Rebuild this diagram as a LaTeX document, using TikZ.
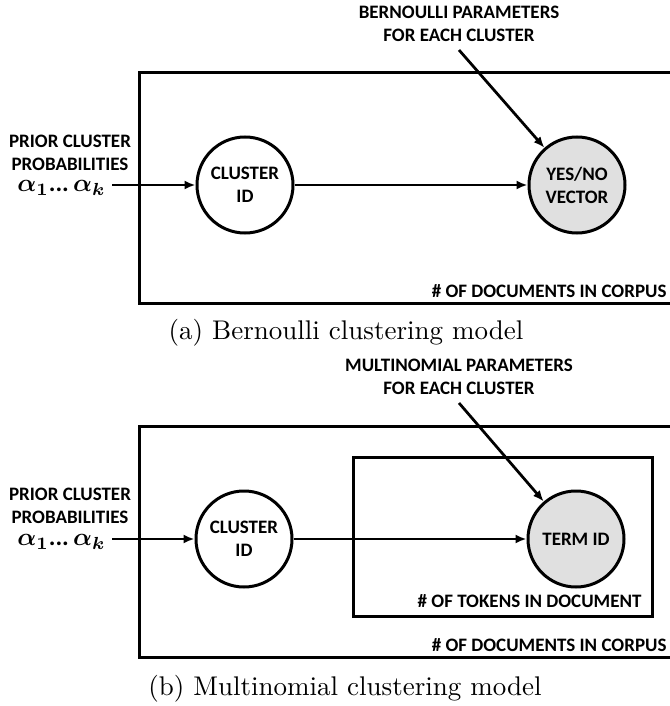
\documentclass[tikz,border=0pt]{standalone}
\usepackage{fontspec}
\usepackage{bm}
\newfontfamily\calfont{Carlito}
\usetikzlibrary{arrows.meta}
\definecolor{obsfill}{HTML}{E0E0E0}
\tikzset{
  lbl/.style={font=\calfont\bfseries\fontsize{7.6}{9.2}\selectfont, align=center, inner sep=0pt},
  platelbl/.style={font=\calfont\bfseries\fontsize{7.6}{9.2}\selectfont, anchor=east, inner sep=0pt},
  rv/.style={circle, draw, line width=1.2pt, minimum size=38.4pt, inner sep=0pt,
             font=\calfont\bfseries\fontsize{7.6}{9.2}\selectfont, align=center},
  obs/.style={rv, fill=obsfill},
  plate/.style={line width=1.2pt},
  edge/.style={line width=1.1pt, -{Latex[length=4.4pt,width=3.6pt]}},
  alphas/.style={font=\fontsize{10}{12}\selectfont, inner sep=0pt},
  capt/.style={font=\fontsize{10.8}{13}\selectfont, inner sep=0pt}
}
\newcommand{\alphaseq}{$\bm{\alpha_1}$\textbf{\calfont...}$\,\bm{\alpha_k}$}
\begin{document}
\begin{tikzpicture}[x=0.4pt, y=-0.4pt]
\useasboundingbox (0,0) rectangle (670,706);

% ---------- (a) Bernoulli clustering model ----------
\node[lbl] (bparam) at (459,24) {BERNOULLI PARAMETERS\\FOR EACH CLUSTER};
\coordinate (bstart) at (459,50);
\draw[plate] (672,73) -- (139,73) -- (139,303) -- (672,303);
\node[platelbl] (bdocs) at (667,291) {\# OF DOCUMENTS IN CORPUS};

\node[lbl] (bprior) at (70,153) {PRIOR CLUSTER\\PROBABILITIES};
\node[alphas, anchor=east] (balpha) at (106,188) {\alphaseq};
\node[rv] (bclust) at (245,185) {CLUSTER\\ID};
\node[obs] (bvec) at (577,185) {YES/NO\\VECTOR};

\coordinate (bin) at (112,185);
\draw[edge] (bin) -- (bclust);
\draw[edge] (bclust) -- (bvec);
\draw[edge] (bstart) -- (bvec);

\node[capt] (capa) at (346,333) {(a) Bernoulli clustering model};

% ---------- (b) Multinomial clustering model ----------
\node[lbl] (mparam) at (459,377) {MULTINOMIAL PARAMETERS\\FOR EACH CLUSTER};
\coordinate (mstart) at (459,403);
\draw[plate] (672,426) -- (139,426) -- (139,657) -- (672,657);
\draw[plate] (353,457) rectangle (652,616);
\node[platelbl] (mtok) at (642,601) {\# OF TOKENS IN DOCUMENT};
\node[platelbl] (mdocs) at (667,645) {\# OF DOCUMENTS IN CORPUS};

\node[lbl] (mprior) at (70,506) {PRIOR CLUSTER\\PROBABILITIES};
\node[alphas, anchor=east] (malpha) at (106,542) {\alphaseq};
\node[rv] (mclust) at (244,539) {CLUSTER\\ID};
\node[obs] (mterm) at (576,539) {TERM ID};

\coordinate (min) at (112,539);
\draw[edge] (min) -- (mclust);
\draw[edge] (mclust) -- (mterm);
\draw[edge] (mstart) -- (mterm);

\node[capt] (capb) at (345,689) {(b) Multinomial clustering model};
\end{tikzpicture}
\end{document}
